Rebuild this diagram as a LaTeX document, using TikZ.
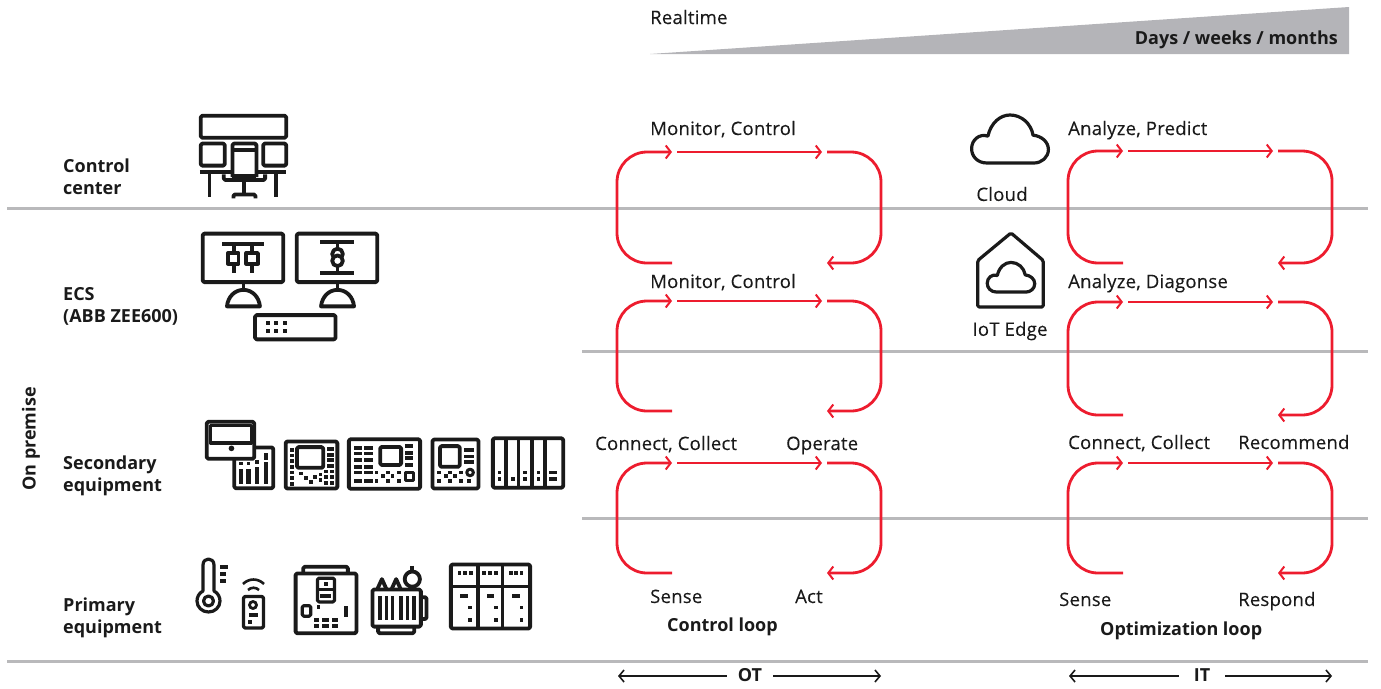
\documentclass[tikz,border=0pt]{standalone}
\usepackage{fontspec}
\setmainfont{Open Sans}
\newfontfamily\medfont[FakeBold=0.2,LetterSpace=1.3]{Open Sans}
\usetikzlibrary{arrows.meta}
\definecolor{ink}{HTML}{1A1A1A}
\definecolor{rul}{HTML}{B9B9BB}
\definecolor{wedge}{HTML}{B4B4B8}
\definecolor{loopred}{HTML}{ED1C2E}
\tikzset{
  lbl/.style={anchor=base west,inner sep=0pt,text=ink,font=\medfont\fontsize{18.5}{20}\selectfont},
  lblb/.style={lbl,font=\fontsize{18}{20}\selectfont\bfseries},
  rulea/.style={draw=rul,line width=3pt},
  redline/.style={draw=loopred,line width=2.8pt,rounded corners=30pt},
  redarrow/.style={redline,-{Straight Barb[length=5pt,width=13pt,line width=2pt]}},
  blackarrow/.style={draw=ink,line width=2pt,-{Straight Barb[length=5pt,width=12pt,line width=1.6pt]}},
  ico/.style={draw=ink,line width=3.8pt,line join=round,rounded corners=1.5pt},
  icl/.style={draw=ink,line width=3.8pt,line join=round},
  ict/.style={draw=ink,line width=2.8pt,line join=round},
}
\newcommand{\pxs}[1]{\foreach \px/\py in {#1}{\fill[ink] (\px-2,\py-2) rectangle (\px+2,\py+2);}}
\newcommand{\hbars}[3]{\foreach \py in {#3}{\fill[ink] (#1,\py-2) rectangle (#2,\py+2);}}
\newcommand{\rloop}[4]{%
  \coordinate (#1a) at (#2+55,#4);
  \coordinate (#1b) at (#2,#4);
  \coordinate (#1c) at (#2,#3);
  \coordinate (#1d) at (#2+55,#3);
  \coordinate (#1e) at (#2+60,#3);
  \coordinate (#1f) at (#2+205,#3);
  \coordinate (#1g) at (#2+210,#3);
  \coordinate (#1h) at (#2+264,#3);
  \coordinate (#1i) at (#2+264,#4);
  \coordinate (#1j) at (#2+210,#4);
  \draw[redarrow] (#1a) -- (#1b) -- (#1c) -- (#1d);
  \draw[redarrow] (#1e) -- (#1f);
  \draw[redarrow] (#1g) -- (#1h) -- (#1i) -- (#1j);
}
\newcommand{\cloudpath}{(16,50) .. controls (6,50) and (0,43) .. (0,35) .. controls (0,26) and (8,19) .. (17,22) .. controls (20,8) and (30,0) .. (40,0) .. controls (52,0) and (62,9) .. (64,21) .. controls (73,22) and (80,28) .. (80,36) .. controls (80,44) and (73,50) .. (65,50) -- cycle}
\newcommand{\dome}[1]{\draw[icl] (#1,282) -- (#1,290); \draw[icl] (#1-17,307) .. controls (#1-16,297) and (#1-9,290) .. (#1,290) .. controls (#1+9,290) and (#1+16,297) .. (#1+17,307) -- cycle;}
\begin{document}
\begin{tikzpicture}[x=1pt,y=-1pt]
\useasboundingbox (0,0) rectangle (1381,688);
% rules
\coordinate (r1a) at (7,208); \coordinate (r1b) at (1368,208);
\coordinate (r2a) at (582,351); \coordinate (r2b) at (1368,351);
\coordinate (r3a) at (582,518); \coordinate (r3b) at (1368,518);
\coordinate (r4a) at (7,661); \coordinate (r4b) at (1368,661);
\draw[rulea] (r1a) -- (r1b);
\draw[rulea] (r2a) -- (r2b);
\draw[rulea] (r3a) -- (r3b);
\draw[rulea] (r4a) -- (r4b);
% wedge
\fill[wedge] (650,54) -- (1349,7) -- (1349,54) -- cycle;
\node[lbl] (realtime) at (650,24) {Realtime};
\node[lblb,anchor=base east] (days) at (1338,44) {Days / weeks / months};
% left labels
\node[lblb] (cc1) at (63,172) {Control};
\node[lblb] (cc2) at (63,194) {center};
\node[lblb] (ecs1) at (63,300) {ECS};
\node[lblb] (ecs2) at (63,322) {(ABB ZEE600)};
\node[lblb] (sec1) at (63,469) {Secondary};
\node[lblb] (sec2) at (63,491) {equipment};
\node[lblb] (pri1) at (63,611) {Primary};
\node[lblb] (pri2) at (63,633) {equipment};
\node[lblb,anchor=center,rotate=90] (onprem) at (31,439) {On premise};
% loops
\rloop{A}{617}{152}{263}
\rloop{B}{617}{301}{411}
\rloop{C}{617}{463}{573}
\rloop{D}{1068}{151}{263}
\rloop{E}{1068}{302}{415}
\rloop{F}{1068}{463}{573}
% loop labels
\node[lbl] (l1) at (650,135) {Monitor, Control};
\node[lbl] (l2) at (650,288) {Monitor, Control};
\node[lbl] (l3) at (595,450) {Connect, Collect};
\node[lbl] (l4) at (786,450) {Operate};
\node[lbl] (l5) at (650,603) {Sense};
\node[lbl] (l6) at (795,603) {Act};
\node[lblb] (l7) at (667,631) {Control loop};
\node[lbl] (r1) at (1068,135) {Analyze, Predict};
\node[lbl] (r2) at (1068,288) {Analyze, Diagonse};
\node[lbl] (r3) at (1068,449) {Connect, Collect};
\node[lbl] (r4) at (1238,449) {Recommend};
\node[lbl] (r5) at (1059,606) {Sense};
\node[lbl] (r6) at (1238,606) {Respond};
\node[lblb] (r7) at (1100,635) {Optimization loop};
\node[lbl,anchor=center] (cloudt) at (1002,194) {Cloud};
\node[lbl,anchor=center] (iot) at (1010,331) {IoT Edge};
% bottom arrows
\node[lblb,anchor=center,inner xsep=11pt] (ot) at (750,675) {OT};
\node[lblb,anchor=center,inner xsep=15pt] (it) at (1202,675) {IT};
\coordinate (otl) at (618,676); \coordinate (otr) at (881,676);
\coordinate (itl) at (1069,676); \coordinate (itr) at (1332,676);
\draw[blackarrow] (ot.west |- otl) -- (otl);
\draw[blackarrow] (ot.east |- otr) -- (otr);
\draw[blackarrow] (it.west |- itl) -- (itl);
\draw[blackarrow] (it.east |- itr) -- (itr);
% cloud icons
\begin{scope}[scale around={0.96:(1010,139)}]
\begin{scope}[shift={(970,114)}]
\draw[ict,line width=3.2pt] \cloudpath;
\end{scope}
\end{scope}
\begin{scope}[scale around={0.95:(1010.5,270)}]
\draw[ict,line width=3.2pt,rounded corners=1.5pt] (976,309) -- (976,260) -- (1011,231) -- (1045,260) -- (1045,309) -- cycle;
\begin{scope}[shift={(986,262)},scale=0.625]
\draw[ict,line width=3.2pt] \cloudpath;
\end{scope}
\end{scope}
% control centre icon
\begin{scope}[scale around={0.96:(243.5,157)}]
\draw[ico] (199,114) rectangle (288,137);
\draw[ico] (199,143) rectangle (224,166);
\draw[ico] (264,143) rectangle (288,166);
\draw[ico] (232,178) -- (232,143) -- (257,143) -- (257,178);
\draw[icl] (232,150) -- (257,150);
\draw[icl] (198,173) -- (230,173);
\draw[icl] (258,173) -- (288,173);
\draw[icl] (208,173) -- (208,199);
\draw[icl] (277,173) -- (277,199);
\draw[ico] (223,175) -- (223,181) -- (266,181) -- (266,175);
\draw[icl] (232,177) -- (257,177);
\draw[icl] (244,181) -- (244,197);
\draw[ico] (233,200) -- (233,196) -- (256,196) -- (256,200);
\end{scope}
% ECS icons
\begin{scope}[scale around={0.97:(290,286)}]
\draw[ico] (200,232) rectangle (283,282);
\draw[ico] (297,232) rectangle (380,282);
\dome{242}
\dome{339}
\draw[ico] (254,316) rectangle (337,341);
\pxs{267/324,276/324,285/324,267/332,276/332,285/332}
\draw[icl] (220,243) -- (263,243);
\draw[icl] (232,243) -- (232,273);
\draw[icl] (251,243) -- (251,273);
\draw[icl,fill=white] (226,252) rectangle (237,263);
\draw[icl,fill=white] (245,252) rectangle (257,263);
\draw[icl] (321,241) -- (356,241);
\draw[icl] (321,273) -- (356,273);
\draw[icl] (339,239) -- (339,275);
\draw[icl,fill=white] (339,253) circle (5.5);
\draw[icl,fill=white] (339,260) circle (5.5);
\end{scope}
% secondary icons
\begin{scope}[scale around={0.95:(240,455)}]
\draw[ico] (255,447) -- (275,447) -- (275,490) -- (234,490) -- (234,459);
\draw[ico] (205,420) rectangle (255,459);
\draw[icl] (209,424) rectangle (252,442);
\fill[ink] (231,448) circle (3);
\foreach \bx/\bt in {241/470,249/470,258/468,267/462}{\fill[ink] (\bx-2.2,\bt) rectangle (\bx+2.2,486);}
\pxs{241/464,249/464,258/462}
\fill[ink] (264.8,453) rectangle (269.2,460);
\end{scope}
% device 3
\begin{scope}[scale around={0.94:(311.5,465)}]
\draw[ico] (284,440) rectangle (339,490);
\draw[ico] (296,446) rectangle (324,468);
\pxs{291/449,291/455,291/461,291/467,291/473,291/479,291/485}
\hbars{328}{335}{448,454,460,466}
\pxs{300/474,306/479,311/483,315/478,321/475,321/481,327/472,333/472,327/478,333/478,327/484,333/484}
\end{scope}
% device 4
\begin{scope}[scale around={0.95:(384.5,464)}]
\draw[ico] (347,438) rectangle (422,490);
\draw[ico] (380,446) rectangle (402,465);
\hbars{352}{361}{447,453,460,467}
\hbars{363}{372}{447,453,460,467}
\hbars{352}{361}{473,482}
\hbars{363}{372}{473,482}
\hbars{406}{415}{445,452,458,465}
\pxs{376/473,376/482,383/477,388/473,388/482,393/477,400/473,400/482}
\draw[icl,line width=3pt] (407,473) rectangle (415,481);
\end{scope}
% device 5
\begin{scope}[scale around={0.94:(455.5,464)}]
\draw[ico] (431,438) rectangle (480,490);
\draw[ico] (439,445) rectangle (460,467);
\hbars{465}{475}{449,456,462}
\draw[icl,line width=3pt] (471,473) circle (3.5);
\pxs{438/473,438/482,445/477,450/473,450/482,455/477,461/473,461/482,470/482}
\end{scope}
% device 6
\begin{scope}[scale around={0.95:(528,463)}]
\draw[ico] (491,437) rectangle (565,489);
\foreach \dx in {505,518,532,546}{\draw[icl] (\dx,437) -- (\dx,489);}
\pxs{498/473,498/480,512/480,525/473,525/480,539/473,539/480}
\hbars{550}{559}{473,480}
\end{scope}
% thermometer
\draw[ict,line width=3.2pt] (203,591) -- (203,565) .. controls (203,557) and (214,557) .. (214,565) -- (214,591) .. controls (218,593) and (220,597) .. (220,601) .. controls (220,607) and (215,612) .. (208.5,612) .. controls (202,612) and (197,607) .. (197,601) .. controls (197,597) and (199,593) .. (203,591) -- cycle;
\draw[ict,line width=3.2pt] (208.5,601) circle (5);
\hbars{220}{228}{567}
\hbars{220}{226}{574,581}
% sensor
\draw[ict,line width=2.6pt] (243,584) .. controls (249,578) and (258,578) .. (264,584);
\draw[ict,line width=2.6pt] (248,590) .. controls (251,587) and (256,587) .. (259,590);
\draw[ico,line width=3.2pt] (243.5,596.5) rectangle (263.5,628);
\draw[ict] (253,605) circle (3.5);
\hbars{249}{258}{615}
\pxs{250/622}
% breaker box
\begin{scope}[scale around={0.95:(326,600)}]
\draw[ico] (302,572) -- (302,565) -- (349,565) -- (349,572);
\draw[ico] (294,572) rectangle (358,635);
\draw[ico,line width=3.2pt] (317,577) rectangle (335,602);
\draw[icl,line width=3.2pt] (317,589) -- (335,589);
\pxs{326/583,318/607}
\hbars{320}{331}{596}
\draw[ico,line width=3.2pt] (301,606) rectangle (310,617);
\fill[ink] (345,606) rectangle (349,618);
\hbars{313}{319}{621,627}
\hbars{322}{329}{621,627}
\hbars{332}{339}{621,627}
\end{scope}
% transformer
\begin{scope}[scale around={0.95:(399,600)}]
\draw[ico] (422,597) -- (428,597) -- (428,620) -- (422,620);
\draw[ico] (377,628) -- (377,635) -- (415,635) -- (415,628);
\draw[ico] (371,589) rectangle (422,628);
\foreach \tx in {379,386,392,401,408,415}{\fill[ink] (\tx-1.9,596) rectangle (\tx+1.9,621);}
\draw[icl] (376,589) -- (381,578) -- (386,589);
\draw[icl] (391,589) -- (396,578) -- (401,589);
\draw[icl] (413,578) circle (8);
\draw[icl] (413,564) -- (413,570);
\draw[icl] (413,586) -- (413,589);
\end{scope}
% panel
\begin{scope}[scale around={0.955:(490.5,596.5)}]
\draw[ico] (449,563) rectangle (532,630);
\draw[icl] (449,586) -- (532,586);
\draw[icl] (477,563) -- (477,630);
\draw[icl] (503,563) -- (503,630);
\pxs{458/572,464/572,470/572,484/572,490/572,496/572,512/572,517/572,523/572,469/608,469/621,496/608,496/621,523/608,523/621}
\hbars{459}{467}{596}
\hbars{487}{494}{596}
\hbars{513}{521}{596}
\end{scope}
\end{tikzpicture}
\end{document}
